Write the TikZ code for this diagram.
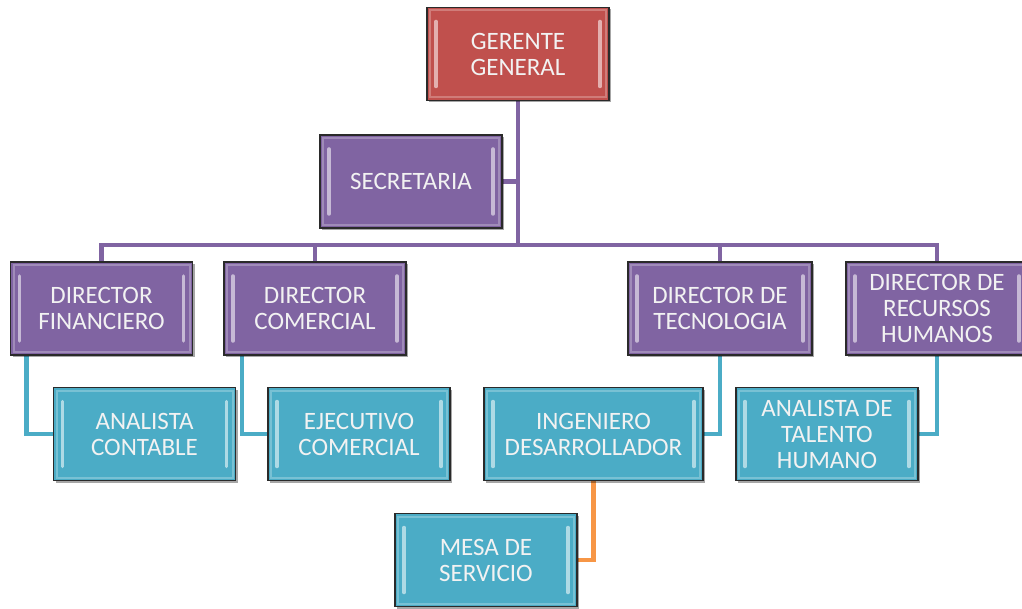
\documentclass[tikz,border=0pt]{standalone}
\usepackage{fontspec}
\setmainfont{Carlito}
\usetikzlibrary{shadows,backgrounds}
\definecolor{cred}{HTML}{C0504D}
\definecolor{cpur}{HTML}{8064A2}
\definecolor{cteal}{HTML}{4BACC6}
\definecolor{corange}{HTML}{F79646}
\definecolor{edgec}{HTML}{2A2A2A}
\definecolor{txtc}{HTML}{F2F2F2}
\tikzset{
  box/.style={draw=edgec, line width=1.6pt, minimum height=93pt, minimum width=182pt,
    inner sep=0pt, align=center, text=txtc, font=\fontsize{25}{26}\selectfont,
    fill=#1,
    drop shadow={shadow xshift=2pt, shadow yshift=-2pt, opacity=0.35, fill=black},
    path picture={
      \draw[#1!75!white, line width=2pt]
        ([shift={(3pt,-3pt)}]path picture bounding box.north west) rectangle
        ([shift={(-3pt,3pt)}]path picture bounding box.south east);
      \draw[#1!45!white, line width=3.5pt, line cap=round]
        ([shift={(9pt,-14pt)}]path picture bounding box.north west) --
        ([shift={(9pt,14pt)}]path picture bounding box.south west);
      \draw[#1!45!white, line width=3.5pt, line cap=round]
        ([shift={(-9pt,-14pt)}]path picture bounding box.north east) --
        ([shift={(-9pt,14pt)}]path picture bounding box.south east);
    }},
  conn/.style={line width=4.5pt, draw=#1},
}
\begin{document}
\begin{tikzpicture}[x=1pt,y=1pt]
\useasboundingbox (0,0) rectangle (1022,-609);

\node[box=cred] (gg) at (518,-54) {GERENTE\\GENERAL};
\node[box=cpur] (sec) at (411,-181.5) {SECRETARIA};
\node[box=cpur] (dfin) at (101.5,-308.5) {DIRECTOR\\FINANCIERO};
\node[box=cpur] (dcom) at (315,-308.5) {DIRECTOR\\COMERCIAL};
\node[box=cpur, minimum width=184pt] (dtec) at (720,-308.5) {DIRECTOR DE\\TECNOLOGIA};
\node[box=cpur] (drh) at (937,-308.5) {DIRECTOR DE\\RECURSOS\\HUMANOS};
\node[box=cteal] (ac) at (144.5,-434) {ANALISTA\\CONTABLE};
\node[box=cteal] (ec) at (359,-434) {EJECUTIVO\\COMERCIAL};
\node[box=cteal, minimum width=219pt] (ing) at (593.5,-434) {INGENIERO\\DESARROLLADOR};
\node[box=cteal] (ath) at (827,-434) {ANALISTA DE\\TALENTO\\HUMANO};
\node[box=cteal] (mesa) at (486,-560) {MESA DE\\SERVICIO};

\coordinate (bus) at (518,-245);
\begin{scope}[on background layer]
\fill[white] (0,0) rectangle (1022,-609);
\draw[conn=cpur] (gg.south) -- (bus);
\draw[conn=cpur] (sec.east) -- (sec.east -| bus);
\draw[conn=cpur] (dfin.north) |- (bus) -| (drh.north);
\draw[conn=cpur] (dcom.north) -- (dcom.north |- bus);
\draw[conn=cpur] (dtec.north) -- (dtec.north |- bus);
\draw[conn=cteal] ([xshift=17pt]dfin.south west) |- (ac.west);
\draw[conn=cteal] ([xshift=19pt]dcom.south west) |- (ec.west);
\draw[conn=cteal] (dtec.south) |- (ing.east);
\draw[conn=cteal] (drh.south) |- (ath.east);
\draw[conn=corange] (ing.south) |- (mesa.east);
\end{scope}
\end{tikzpicture}
\end{document}
